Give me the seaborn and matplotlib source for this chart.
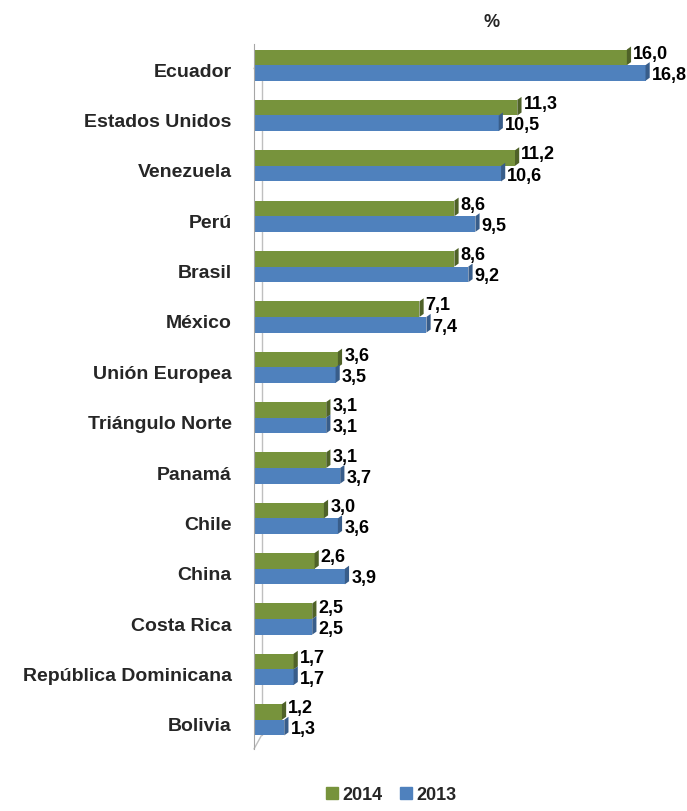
import numpy as np
import pandas as pd
import matplotlib
matplotlib.use("Agg")
import matplotlib.pyplot as plt
from matplotlib.patches import Polygon
import seaborn as sns

# ── Data ──────────────────────────────────────────────────────────────────────
countries = [
    "Ecuador", "Estados Unidos", "Venezuela", "Perú", "Brasil", "México",
    "Unión Europea", "Triángulo Norte", "Panamá", "Chile", "China",
    "Costa Rica", "República Dominicana", "Bolivia",
]
vals_2014 = [16.0, 11.3, 11.2, 8.6, 8.6, 7.1, 3.6, 3.1, 3.1, 3.0, 2.6, 2.5, 1.7, 1.2]
vals_2013 = [16.8, 10.5, 10.6, 9.5, 9.2, 7.4, 3.5, 3.1, 3.7, 3.6, 3.9, 2.5, 1.7, 1.3]
years = ["2014", "2013"]

GREEN, BLUE = "#77933C", "#4F81BD"
GREEN_D, BLUE_D = "#4F6228", "#385D8A"
FS = 13

df = pd.DataFrame({
    "pais": countries * 2,
    "valor": vals_2014 + vals_2013,
    "anio": ["2014"] * len(countries) + ["2013"] * len(countries),
})

sns.set_style("white")
plt.rcParams["font.family"] = ["Liberation Sans", "DejaVu Sans"]

fig = plt.figure(figsize=(6.87, 8.12), dpi=100)
ax = fig.add_axes([0.3697, 0.0764, 0.6303, 0.8682])

sns.barplot(data=df, x="valor", y="pais", hue="anio", hue_order=years,
            palette=[GREEN, BLUE], width=0.62, orient="h", ax=ax,
            legend=False, saturation=1, edgecolor="none")

ax.set_xlim(0, 18.58)
ax.set_ylim(len(countries) - 0.5, -0.5)

# 3D-ish look: shift bars up a touch and add a darker end face
dx, dy = 0.18, 0.06
for cont, dark, voff in zip(ax.containers, [GREEN_D, BLUE_D], [3, -1]):
    for p, v in zip(cont.patches, cont.datavalues):
        p.set_y(p.get_y() - 0.08)
        x1 = p.get_x() + p.get_width()
        y0, h = p.get_y(), p.get_height()
        ax.add_patch(Polygon([(x1, y0 + h), (x1, y0), (x1 + dx, y0 - dy),
                              (x1 + dx, y0 + h - dy)],
                             closed=True, facecolor=dark, edgecolor="none"))
        ax.annotate(f"{v:.1f}".replace(".", ","),
                    xy=(x1 + dx, y0 + h / 2), xytext=(1.5, voff),
                    textcoords="offset points", ha="left", va="center",
                    fontsize=FS, fontweight="bold", color="black",
                    annotation_clip=False)

# axes styling
for s in ["top", "right", "bottom"]:
    ax.spines[s].set_visible(False)
ax.spines["left"].set_color("#A6A6A6")
ax.set_xticks([])
ax.set_xlabel("")
ax.set_ylabel("")
ax.tick_params(axis="y", length=0, pad=16)
ax.set_yticks(np.arange(len(countries) + 1) - 0.5, minor=True)
ax.tick_params(axis="y", which="minor", length=5, color="#A6A6A6", width=1)
for lbl in ax.get_yticklabels():
    lbl.set_fontsize(14)
    lbl.set_fontweight("bold")

# back wall line of the 3D frame
ax.plot([0.018, 0.018], [0.02, 0.985], transform=ax.transAxes,
        color="#BFBFBF", lw=1, zorder=0, clip_on=False)
ax.plot([0.0, 0.018], [0.0, 0.02], transform=ax.transAxes,
        color="#BFBFBF", lw=1, zorder=0, clip_on=False)
ax.plot([0.0, 0.018], [0.965, 0.985], transform=ax.transAxes,
        color="#BFBFBF", lw=1, zorder=0, clip_on=False)

fig.text(0.716, 0.972, "%", ha="center", va="center", fontsize=FS,
         fontweight="bold")

handles = [plt.Line2D([], [], marker="s", ls="", color=c, markersize=8)
           for c in [GREEN, BLUE]]
fig.legend(handles, years, loc="lower center", bbox_to_anchor=(0.57, -0.01),
           ncol=2, frameon=False, handlelength=0.6, handletextpad=0.3,
           columnspacing=1.0, prop={"weight": "bold", "size": FS})

fig.savefig("out.png", dpi=100)
